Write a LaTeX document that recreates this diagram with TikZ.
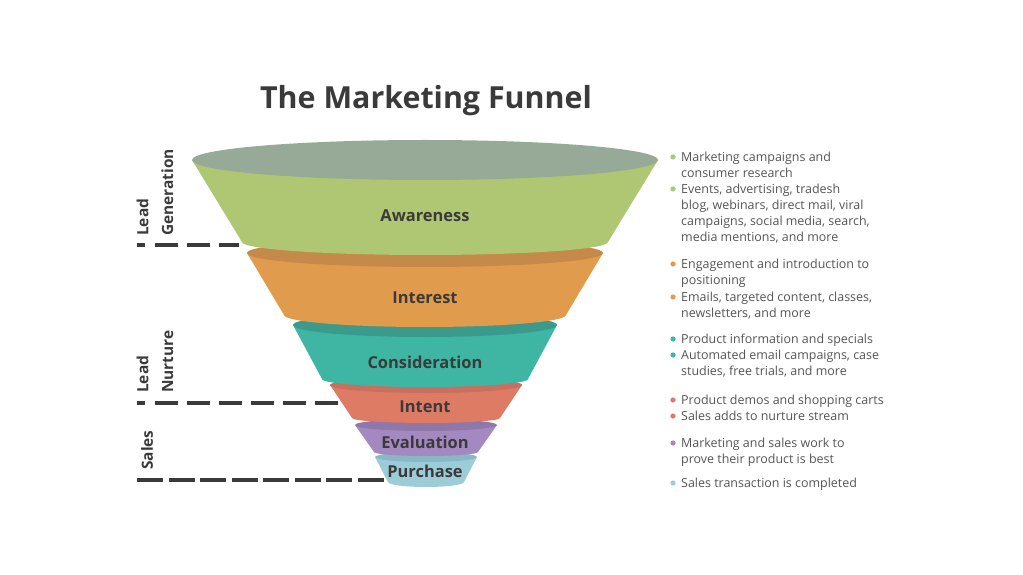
\documentclass[tikz,border=0pt]{standalone}
\usepackage{fontspec}
\setmainfont{Open Sans}
\definecolor{awaTop}{HTML}{97AA98}
\definecolor{awaBody}{HTML}{AFC673}
\definecolor{intTop}{HTML}{C5894A}
\definecolor{intBody}{HTML}{E09B4D}
\definecolor{conTop}{HTML}{3A9A8B}
\definecolor{conBody}{HTML}{3FB5A3}
\definecolor{itnTop}{HTML}{C86F5E}
\definecolor{itnBody}{HTML}{DE7B64}
\definecolor{evaTop}{HTML}{8E78AA}
\definecolor{evaBody}{HTML}{A488C0}
\definecolor{purTop}{HTML}{88B8C6}
\definecolor{purBody}{HTML}{9CCCD8}
\definecolor{inkgray}{HTML}{3A3A3A}
\definecolor{descgray}{HTML}{555555}

\begin{document}
\begin{tikzpicture}[x=1bp, y=-1bp,
        lbl/.style={font=\fontsize{16.5}{20}\selectfont\bfseries, text=inkgray},
        side/.style={rotate=90, anchor=west, align=left, inner sep=0pt,
          font=\fontsize{15.5}{25}\selectfont\bfseries, text=inkgray},
        desc/.style={anchor=north west, align=left, inner sep=0pt,
          font=\fontsize{12.5}{16}\selectfont, text=descgray},
        leaddash/.style={line width=4.5bp, inkgray, dash pattern=on 8bp off 10bp
          on 23bp off 9bp on 23bp off 9bp on 23bp off 9bp on 23bp off 9bp
          on 23bp off 9bp on 23bp off 9bp},
        salesdash/.style={line width=4.5bp, inkgray, dash pattern=on 26bp off 5.5bp}]
     \useasboundingbox (0,0) rectangle (1023,575);
     \node (title) at (426,101) [font=\fontsize{30.5}{36}\selectfont\bfseries, text=inkgray]
          {The Marketing Funnel};
     % funnel, from the bottom up
     \fill[purBody] (375,457) -- (388,482) arc[start angle=180, end angle=0, x radius=38, y radius=5] -- (477,457) -- cycle;
     \fill[purTop] (426,457) ellipse[x radius=51, y radius=5];
     \fill[evaBody] (355,425) -- (374,452) arc[start angle=180, end angle=0, x radius=52, y radius=4] -- (497,425) -- cycle;
     \fill[evaTop] (426,425) ellipse[x radius=71, y radius=6];
     \fill[itnBody] (330,385) -- (352,418) arc[start angle=180, end angle=0, x radius=74, y radius=5] -- (522,385) -- cycle;
     \fill[itnTop] (426,385) ellipse[x radius=96, y radius=8];
     \fill[conBody] (293,325) -- (322,379) arc[start angle=180, end angle=0, x radius=103, y radius=8] -- (557,325) -- cycle;
     \fill[conTop] (425,325) ellipse[x radius=132, y radius=12];
     \fill[intBody] (247,253) -- (284,315) arc[start angle=180, end angle=0, x radius=141, y radius=12] -- (603,253) -- cycle;
     \fill[intTop] (425,253) ellipse[x radius=178, y radius=14];
     \fill[awaBody] (192,160) -- (242,242) arc[start angle=180, end angle=0, x radius=183, y radius=13] -- (658,160) -- cycle;
     \fill[awaTop] (425,160) ellipse[x radius=233, y radius=20];
     \node (awareness) at (425,216) [lbl] {Awareness};
     \node (interest) at (425,298) [lbl] {Interest};
     \node (consideration) at (425,362) [lbl] {Consideration};
     \node (intent) at (425,407) [lbl] {Intent};
     \node (evaluation) at (425,442) [lbl] {Evaluation};
     \node (purchase) at (425,471) [lbl] {Purchase};
     % stages on the left
     \node (generation) at (155,236) [side] {Lead\\Generation};
     \node (nurture) at (155,393) [side] {Lead\\Nurture};
     \node (sales) at (147,470) [side] {Sales};
     \coordinate (gen-l) at (137,245);
     \coordinate (gen-r) at (239,245);
     \coordinate (nur-l) at (137,403);
     \coordinate (nur-r) at (338,403);
     \coordinate (sal-l) at (137,480);
     \coordinate (sal-r) at (384,480);
     \draw[leaddash] (gen-l) -- (gen-r);
     \draw[leaddash] (nur-l) -- (nur-r);
     \draw[salesdash] (sal-l) -- (sal-r);
     % notes on the right
     \fill[awaBody] (673,157) circle (2.6bp);
     \fill[awaBody] (673,189) circle (2.6bp);
     \fill[intBody] (673,264) circle (2.6bp);
     \fill[intBody] (673,297) circle (2.6bp);
     \fill[conBody] (673,339) circle (2.6bp);
     \fill[conBody] (673,355) circle (2.6bp);
     \fill[itnBody] (673,400) circle (2.6bp);
     \fill[itnBody] (673,416) circle (2.6bp);
     \fill[evaBody] (673,443) circle (2.6bp);
     \fill[purBody] (673,483) circle (2.6bp);
     \node (a1) at (681,152) [desc] {Marketing campaigns and\\consumer research};
     \node (a2) at (681,184) [desc] {Events, advertising, tradesh\\blog, webinars, direct mail, viral\\campaigns, social media, search,\\media mentions, and more};
     \node (i1) at (681,259) [desc] {Engagement and introduction to\\positioning};
     \node (i2) at (681,292) [desc] {Emails, targeted content, classes,\\newsletters, and more};
     \node (c1) at (681,334) [desc] {Product information and specials};
     \node (c2) at (681,350) [desc] {Automated email campaigns, case\\studies, free trials, and more};
     \node (t1) at (681,395) [desc] {Product demos and shopping carts};
     \node (t2) at (681,411) [desc] {Sales adds to nurture stream};
     \node (e1) at (681,438) [desc] {Marketing and sales work to\\prove their product is best};
     \node (p1) at (681,478) [desc] {Sales transaction is completed};
    \end{tikzpicture}
\end{document}
